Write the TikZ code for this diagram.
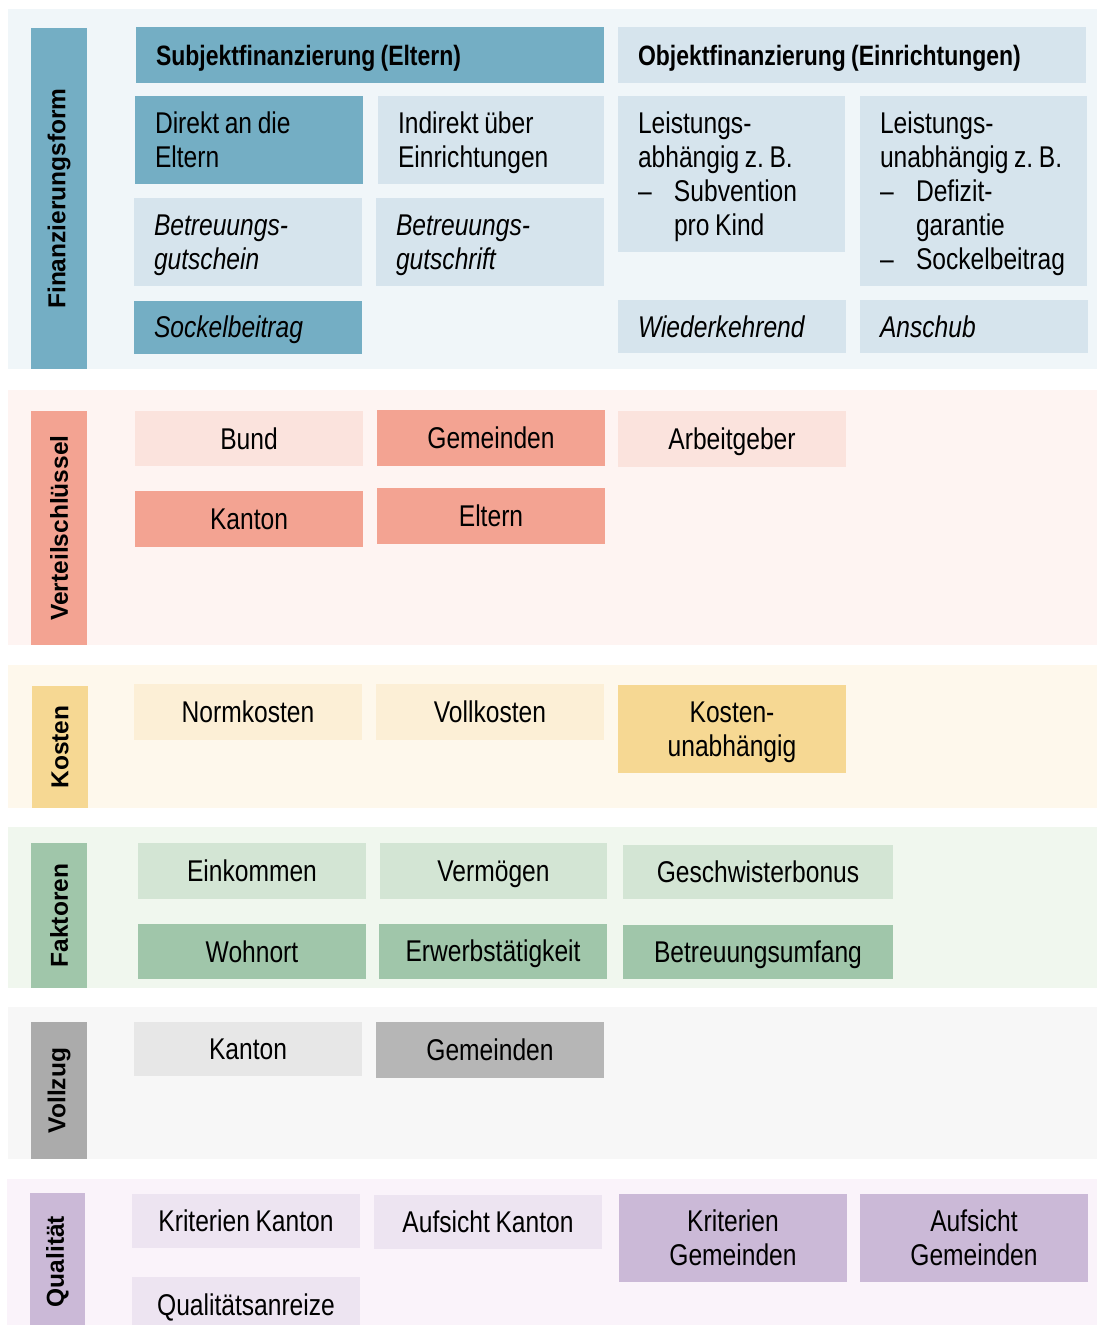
\documentclass[tikz,border=0pt]{standalone}
\usepackage{fontspec}
\setmainfont{Liberation Sans}[FakeStretch=0.82,WordSpace=0.82]
\newfontfamily\sidefont{Liberation Sans}
\definecolor{bgA}{HTML}{F0F6F9}
\definecolor{dkA}{HTML}{74AEC4}
\definecolor{ltA}{HTML}{D6E4ED}
\definecolor{bgB}{HTML}{FEF4F2}
\definecolor{dkB}{HTML}{F3A392}
\definecolor{ltB}{HTML}{FBE3DD}
\definecolor{bgC}{HTML}{FEF8EC}
\definecolor{dkC}{HTML}{F6D893}
\definecolor{ltC}{HTML}{FCEFD6}
\definecolor{bgD}{HTML}{F0F7EE}
\definecolor{dkD}{HTML}{A0C6AA}
\definecolor{ltD}{HTML}{D3E5D4}
\definecolor{bgE}{HTML}{F7F7F7}
\definecolor{sdE}{HTML}{ABABAB}
\definecolor{dkE}{HTML}{B6B6B6}
\definecolor{ltE}{HTML}{E7E7E7}
\definecolor{bgF}{HTML}{FAF3FA}
\definecolor{dkF}{HTML}{CBB9D7}
\definecolor{ltF}{HTML}{EDE4F1}
\newcommand\stt{\rule[-6pt]{0pt}{33pt}}
\newcommand\dashitem[1]{\stt\makebox[36pt][l]{–}#1}
\newcommand\cbx[7]{%
  \pgfmathsetmacro\mybw{#4-#2}\pgfmathsetmacro\mybh{#5-#3}%
  \pgfmathsetmacro\mybx{(#2+#4)/2}\pgfmathsetmacro\myby{(#3+#5)/2}%
  \node[cbox, fill=#6, minimum width=\mybw pt, minimum height=\mybh pt] (#1) at (\mybx,\myby) {#7};}
\newcommand\lbx[7]{%
  \pgfmathsetmacro\mybw{#4-#2}\pgfmathsetmacro\mybh{#5-#3}\pgfmathsetmacro\mytw{#4-#2-40}%
  \pgfmathsetmacro\mybx{(#2+#4)/2}\pgfmathsetmacro\myby{(#3+#5)/2}%
  \node[lbox, fill=#6, text width=\mytw pt, minimum width=\mybw pt, minimum height=\mybh pt] (#1) at (\mybx,\myby) {#7};}
\newcommand\sbar[6]{%
  \pgfmathsetmacro\mybw{#4-#2}\pgfmathsetmacro\mybh{#5-#3}%
  \pgfmathsetmacro\mybx{(#2+#4)/2}\pgfmathsetmacro\myby{(#3+#5)/2}%
  \node[fill=#6, inner sep=0pt, minimum width=\mybw pt, minimum height=\mybh pt] (#1) at (\mybx,\myby) {};}
\begin{document}
\frenchspacing
\begin{tikzpicture}[x=1pt,y=-1pt,
  box/.style={draw=none, inner sep=0pt, text=black, font=\frenchspacing\fontsize{30}{34}\selectfont},
  cbox/.style={box, align=center},
  lbox/.style={box, align=flush left, inner xsep=20pt},
  sidelabel/.style={rotate=90, inner sep=0pt, font=\sidefont\bfseries\fontsize{24.5}{28}\selectfont}]
\useasboundingbox (0,0) rectangle (1098,1325);
\clip (0,0) rectangle (1098,1325);
\fill[white] (0,0) rectangle (1098,1325);
% ---------------- Finanzierungsform
\sbar{bg1}{8}{9}{1097}{369}{bgA}
\sbar{side1}{31}{28}{87}{369}{dkA}
\node[sidelabel] (side1t) at (side1) {Finanzierungsform};
\lbx{h1}{136}{27}{604}{83}{dkA}{\fontsize{28}{34}\bfseries\stt Subjektfinanzierung (Eltern)}
\lbx{h2}{618}{27}{1086}{83}{ltA}{\fontsize{28}{34}\bfseries\stt Objektfinanzierung (Einrichtungen)}
\lbx{b11}{135}{96}{363}{184}{dkA}{\stt Direkt an die\\\stt Eltern}
\lbx{b12}{378}{96}{604}{184}{ltA}{\stt Indirekt über\\\stt Einrichtungen}
\lbx{b13}{618}{96}{845}{252}{ltA}{\stt Leistungs-\\\stt\mbox{abhängig z. B.}\\\dashitem{Subvention}\\\stt\hspace*{36pt}pro Kind}
\lbx{b14}{860}{96}{1087}{286}{ltA}{\stt Leistungs-\\\stt\mbox{unabhängig z. B.}\\\dashitem{Defizit-}\\\stt\hspace*{36pt}garantie\\\dashitem{Sockelbeitrag}}
\lbx{b21}{134}{198}{362}{286}{ltA}{\itshape\stt Betreuungs-\\\stt gutschein}
\lbx{b22}{376}{198}{604}{286}{ltA}{\itshape\stt Betreuungs-\\\stt gutschrift}
\lbx{b31}{134}{301}{362}{354}{dkA}{\itshape\stt Sockelbeitrag}
\lbx{b33}{618}{300}{846}{353}{ltA}{\itshape\stt Wiederkehrend}
\lbx{b34}{860}{300}{1088}{353}{ltA}{\itshape\stt Anschub}
% ---------------- Verteilschlüssel
\sbar{bg2}{8}{390}{1097}{645}{bgB}
\sbar{side2}{31}{411}{87}{645}{dkB}
\node[sidelabel] (side2t) at (side2) {Verteilschlüssel};
\cbx{v1}{135}{411}{363}{466}{ltB}{\stt Bund}
\cbx{v2}{377}{410}{605}{466}{dkB}{\stt Gemeinden}
\cbx{v3}{618}{411}{846}{467}{ltB}{\stt Arbeitgeber}
\cbx{v4}{135}{491}{363}{547}{dkB}{\stt Kanton}
\cbx{v5}{377}{488}{605}{544}{dkB}{\stt Eltern}
% ---------------- Kosten
\sbar{bg3}{8}{665}{1097}{808}{bgC}
\sbar{side3}{32}{686}{88}{808}{dkC}
\node[sidelabel] (side3t) at (side3) {Kosten};
\cbx{k1}{134}{684}{362}{740}{ltC}{\stt Normkosten}
\cbx{k2}{376}{684}{604}{740}{ltC}{\stt Vollkosten}
\cbx{k3}{618}{685}{846}{773}{dkC}{\stt Kosten-\\\stt unabhängig}
% ---------------- Faktoren
\sbar{bg4}{8}{827}{1097}{988}{bgD}
\sbar{side4}{31}{843}{87}{988}{dkD}
\node[sidelabel] (side4t) at (side4) {Faktoren};
\cbx{f1}{138}{843}{366}{899}{ltD}{\stt Einkommen}
\cbx{f2}{380}{843}{607}{899}{ltD}{\stt Vermögen}
\cbx{f3}{623}{845}{893}{899}{ltD}{\stt Geschwisterbonus}
\cbx{f4}{138}{924}{366}{979}{dkD}{\stt Wohnort}
\cbx{f5}{379}{924}{607}{979}{dkD}{\stt Erwerbstätigkeit}
\cbx{f6}{623}{925}{893}{979}{dkD}{\stt Betreuungsumfang}
% ---------------- Vollzug
\sbar{bg5}{8}{1007}{1097}{1159}{bgE}
\sbar{side5}{31}{1022}{87}{1159}{sdE}
\node[sidelabel] (side5t) at (side5) {Vollzug};
\cbx{z1}{134}{1022}{362}{1076}{ltE}{\stt Kanton}
\cbx{z2}{376}{1022}{604}{1078}{dkE}{\stt Gemeinden}
% ---------------- Qualität
\sbar{bg6}{7}{1179}{1097}{1332}{bgF}
\sbar{side6}{30}{1193}{85}{1330}{dkF}
\node[sidelabel] (side6t) at (side6) {Qualität};
\cbx{q1}{132}{1194}{360}{1248}{ltF}{\stt Kriterien Kanton}
\cbx{q2}{374}{1195}{602}{1249}{ltF}{\stt Aufsicht Kanton}
\cbx{q3}{619}{1194}{847}{1282}{dkF}{\stt Kriterien\\\stt Gemeinden}
\cbx{q4}{860}{1194}{1088}{1282}{dkF}{\stt Aufsicht\\\stt Gemeinden}
\cbx{q5}{132}{1277}{360}{1332}{ltF}{\stt Qualitätsanreize}
\end{tikzpicture}
\end{document}
